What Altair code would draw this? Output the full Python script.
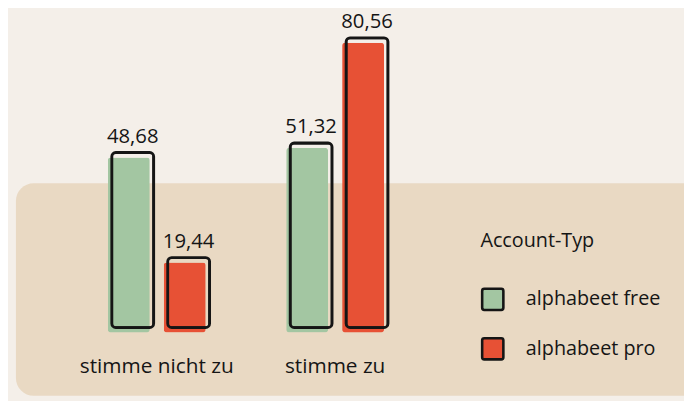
import altair as alt
import pandas as pd

# --- data -------------------------------------------------------------
antworten = ["stimme nicht zu", "stimme zu"]
account_typen = ["alphabeet free", "alphabeet pro"]
werte_free = [48.68, 51.32]
werte_pro = [19.44, 80.56]
farben = ["#a3c6a2", "#e75135"]

rows = []
for i, a in enumerate(antworten):
    rows.append({"Antwort": a, "Account-Typ": account_typen[0], "Wert": werte_free[i]})
    rows.append({"Antwort": a, "Account-Typ": account_typen[1], "Wert": werte_pro[i]})
df = pd.DataFrame(rows)

FONT = "Open Sans"
INK = "#151515"
BG = "#f4efe9"
TAN = "#e9d9c3"

W, H = 684, 326
X0, X1 = 60.25, 421.25
SHIFT_X, SHIFT_Y = 4, 5   # hand-drawn outline offset


def x_enc(shift=0, axis=True):
    ax = alt.Axis(
        title=None, domain=False, ticks=False, tickSize=0, grid=False,
        labelAngle=0, labelFontSize=21, labelFont=FONT, labelColor=INK,
        labelPadding=23, zindex=2,
    ) if axis else None
    return alt.X(
        "Antwort:N",
        sort=antworten,
        scale=alt.Scale(range=[X0 + shift, X1 + shift], paddingInner=0, paddingOuter=0),
        axis=ax,
    )


xoff_enc = alt.XOffset(
    "Account-Typ:N",
    sort=account_typen,
    scale=alt.Scale(paddingInner=0.25, paddingOuter=0.72),
)


def y_enc(shift=0):
    return alt.Y(
        "Wert:Q",
        scale=alt.Scale(domain=[0, 89.6], nice=False, zero=True, range=[H - shift, -shift]),
        axis=None,
    )


# decorative tan backdrop
backdrop = alt.Chart(pd.DataFrame({"d": [0]})).mark_rect(
    color=TAN, cornerRadius=18
).encode(
    x=alt.value(8), x2=alt.value(720), y=alt.value(175), y2=alt.value(390)
)

base = alt.Chart(df)

fills = base.mark_bar(cornerRadius=3).encode(
    x=x_enc(),
    xOffset=xoff_enc,
    y=y_enc(),
    color=alt.Color(
        "Account-Typ:N",
        sort=account_typen,
        scale=alt.Scale(domain=account_typen, range=farben),
        legend=alt.Legend(
            title="Account-Typ",
            orient="none",
            legendX=478,
            legendY=223,
            padding=0,
            titleFont=FONT,
            titleFontSize=20,
            titleFontWeight="normal",
            titleColor=INK,
            titlePadding=37,
            labelFont=FONT,
            labelFontSize=20,
            labelColor=INK,
            labelOffset=21,
            rowPadding=17,
            symbolType="M-0.8,-1L0.8,-1Q1,-1,1,-0.8L1,0.8Q1,1,0.8,1L-0.8,1Q-1,1,-1,0.8L-1,-0.8Q-1,-1,-0.8,-1Z",
            symbolSize=460,
            symbolStrokeColor=INK,
            symbolStrokeWidth=2.6,
            symbolOpacity=1,
        ),
    ),
)

outlines = base.mark_bar(
    fillOpacity=0, stroke=INK, strokeWidth=2.8, cornerRadius=4,
).encode(
    x=x_enc(SHIFT_X, axis=False),
    xOffset=xoff_enc,
    y=y_enc(SHIFT_Y),
)

labels = base.transform_calculate(
    label="replace(format(datum.Wert, '.2f'), '.', ',')"
).mark_text(
    font=FONT, fontSize=20.5, color=INK, baseline="alphabetic", dy=-10,
).encode(
    x=x_enc(SHIFT_X, axis=False),
    xOffset=xoff_enc,
    y=y_enc(SHIFT_Y),
    text="label:N",
)

chart = alt.layer(backdrop, fills, outlines, labels).resolve_scale(
    x="independent", y="independent"
).properties(
    width=W,
    height=H,
    autosize=alt.AutoSizeParams(type="none"),
    padding={"left": 0, "top": 0, "right": 0, "bottom": 67},
    background=BG,
).configure_view(stroke=None)

chart.save("out.html", embed_options={"renderer": "svg", "actions": False})
